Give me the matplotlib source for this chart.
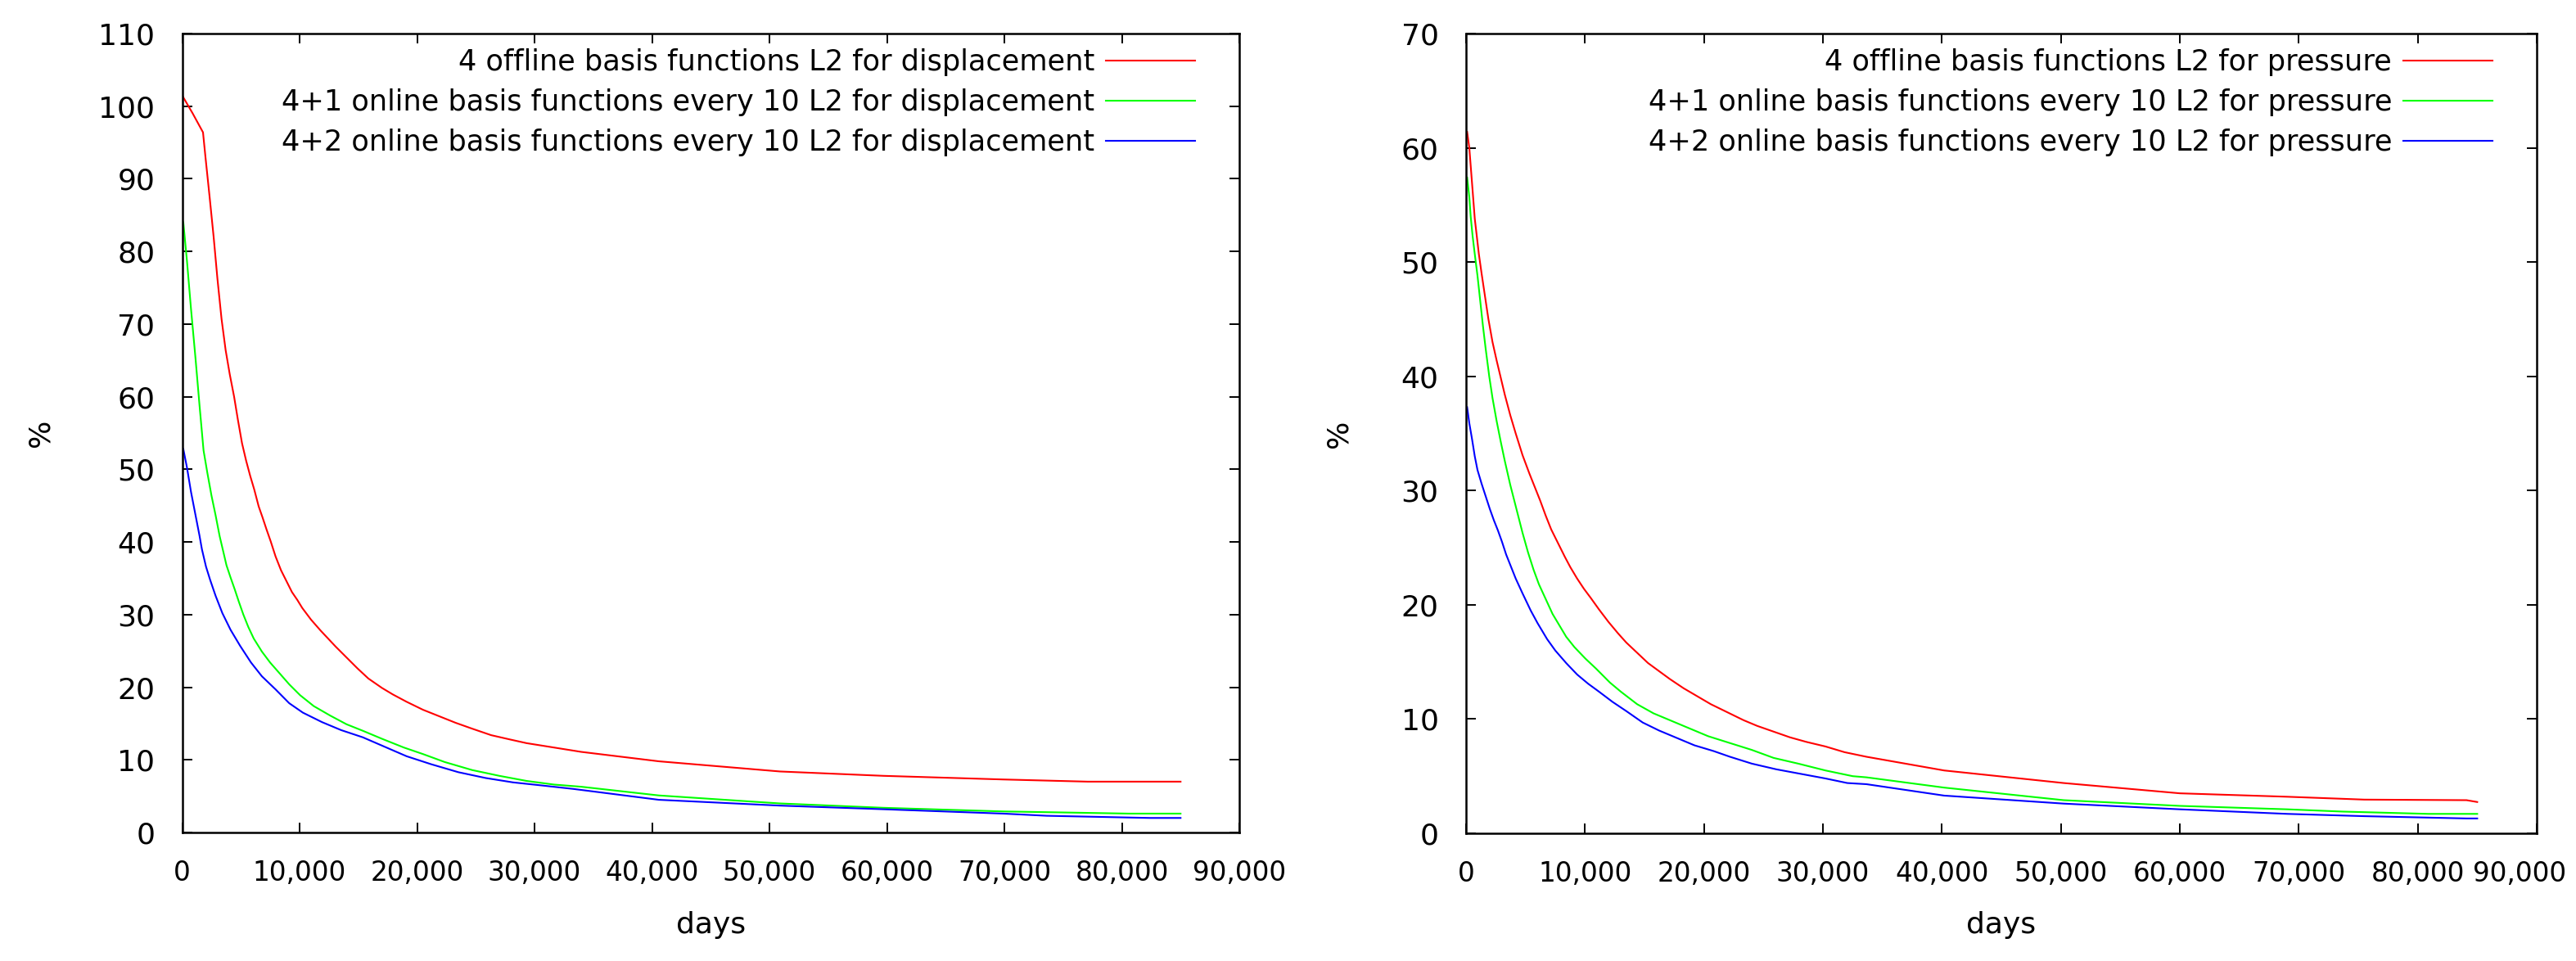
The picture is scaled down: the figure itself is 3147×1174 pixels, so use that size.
import matplotlib
matplotlib.use("Agg")
import matplotlib.pyplot as plt
from matplotlib.ticker import FuncFormatter, MultipleLocator

plt.rcParams['font.family'] = ['DejaVu Sans']

# ---------------- data: displacement (left panel) ----------------
disp_red_x = [0, 900, 1777, 1986, 2334, 2683, 3008, 3356, 3705, 4053,
              4425, 4750, 5098, 5447, 5795, 6144, 6516, 6841, 7190, 7537,
              7956, 8420, 8885, 9350, 9814, 10232, 10976, 11789, 13066, 13995,
              14924, 15854, 17015, 17944, 19106, 20500, 21894, 23287, 24681, 26307,
              27930, 29324, 31650, 33972, 40590, 50900, 59700, 69900, 77100, 85000]
disp_red_y = [101.5, 99.0, 96.4, 93.0, 87.6, 82.0, 76.2, 70.7, 66.4, 63.1,
              60.0, 56.8, 53.6, 51.2, 49.1, 47.2, 44.9, 43.4, 41.7, 40.1,
              38.0, 36.1, 34.6, 33.1, 32.0, 30.9, 29.3, 27.8, 25.6, 24.1,
              22.6, 21.2, 19.9, 19.0, 18.0, 16.9, 16.0, 15.1, 14.3, 13.4,
              12.8, 12.3, 11.7, 11.1, 9.8, 8.4, 7.8, 7.3, 7.0, 7.0]

disp_green_x = [100, 406, 755, 1127, 1476, 1824, 2149, 2497, 2846, 3194,
                3543, 3774, 4125, 4473, 4822, 5213, 5633, 6098, 6794, 7491,
                8304, 9117, 10046, 11207, 12601, 13995, 15389, 17015, 18873, 20500,
                22357, 24681, 27004, 29324, 31650, 33972, 40590, 50900, 59700, 69900,
                80600, 85000]
disp_green_y = [84.0, 78.8, 72.1, 65.5, 58.9, 52.6, 49.5, 46.4, 43.7, 40.8,
                38.4, 36.8, 35.1, 33.5, 31.8, 30.0, 28.3, 26.7, 24.9, 23.4,
                21.9, 20.4, 18.9, 17.4, 16.1, 14.9, 14.0, 12.9, 11.7, 10.8,
                9.7, 8.6, 7.8, 7.1, 6.6, 6.3, 5.1, 4.0, 3.4, 2.9,
                2.6, 2.6]

disp_blue_x = [100, 406, 755, 1127, 1476, 1684, 2033, 2381, 2846, 3426,
               4125, 4937, 5865, 6794, 7956, 9117, 10279, 11904, 13530, 15389,
               17247, 19106, 21197, 23519, 25842, 28165, 30488, 33290, 40590, 50900,
               59700, 69900, 73600, 82400, 85000]
disp_blue_y = [52.8, 50.3, 46.9, 43.8, 40.9, 39.0, 36.6, 34.8, 32.6, 30.2,
               27.9, 25.7, 23.4, 21.5, 19.7, 17.8, 16.5, 15.2, 14.1, 13.1,
               11.8, 10.5, 9.4, 8.3, 7.5, 6.9, 6.5, 6.0, 4.5, 3.7,
               3.2, 2.6, 2.3, 2.0, 2.0]

# ---------------- data: pressure (right panel) ----------------
pres_red_x = [92, 275, 505, 734, 1078, 1308, 1537, 1881, 2225, 2569,
              2913, 3257, 3717, 4175, 4749, 5322, 5896, 6240, 6699, 7158,
              7731, 8305, 8764, 9337, 9911, 10485, 11173, 11975, 12778, 13467,
              14384, 15300, 16218, 17137, 18283, 19430, 20578, 21954, 23331, 24478,
              25854, 27230, 28608, 30213, 31818, 33654, 40190, 50240, 60010, 69030,
              75500, 84100, 85000]
pres_red_y = [61.4, 60.0, 56.9, 53.8, 50.7, 49.0, 47.4, 45.0, 43.0, 41.4,
              39.9, 38.4, 36.6, 35.0, 33.1, 31.5, 30.0, 29.1, 27.8, 26.6,
              25.4, 24.2, 23.3, 22.3, 21.4, 20.6, 19.6, 18.5, 17.5, 16.7,
              15.8, 14.9, 14.2, 13.5, 12.7, 12.0, 11.3, 10.6, 9.9, 9.4,
              8.9, 8.4, 8.0, 7.6, 7.1, 6.7, 5.5, 4.4, 3.5, 3.2,
              2.95, 2.9, 2.74]

pres_green_x = [92, 275, 390, 550, 734, 963, 1193, 1422, 1652, 1950,
                2225, 2569, 2913, 3257, 3717, 4061, 4405, 4749, 5208, 5667,
                6125, 6699, 7273, 8420, 9108, 10026, 10943, 12090, 13008, 14384,
                15760, 17137, 18742, 20350, 22182, 24019, 25854, 27920, 30213, 32507,
                33654, 40190, 50240, 60010, 69030, 73700, 80900, 85000]
pres_green_y = [57.4, 55.7, 54.0, 52.3, 50.7, 48.8, 46.6, 44.4, 42.4, 40.0,
                38.1, 36.1, 34.3, 32.6, 30.5, 29.1, 27.7, 26.3, 24.6, 23.1,
                21.8, 20.5, 19.2, 17.2, 16.3, 15.3, 14.4, 13.2, 12.4, 11.3,
                10.5, 9.9, 9.2, 8.5, 7.9, 7.3, 6.6, 6.1, 5.5, 5.0,
                4.9, 4.0, 2.9, 2.4, 2.1, 1.9, 1.7, 1.7]

pres_blue_x = [92, 275, 505, 734, 963, 1308, 1652, 1996, 2340, 2684,
               3028, 3372, 3831, 4175, 4749, 5437, 6010, 6813, 7502, 8420,
               9337, 10255, 11173, 12319, 13467, 14845, 16218, 17595, 19202, 20805,
               22182, 24019, 26084, 28149, 30213, 32051, 33654, 40190, 50240, 60010,
               69030, 75500, 84100, 85000]
pres_blue_y = [37.3, 35.9, 34.5, 33.0, 31.8, 30.6, 29.5, 28.4, 27.4, 26.5,
               25.5, 24.4, 23.2, 22.3, 21.0, 19.5, 18.4, 17.0, 16.0, 14.9,
               13.9, 13.1, 12.4, 11.5, 10.7, 9.7, 9.0, 8.4, 7.7, 7.2,
               6.7, 6.1, 5.6, 5.2, 4.8, 4.4, 4.3, 3.3, 2.6, 2.1,
               1.7, 1.5, 1.3, 1.3]

disp_labels = ["4 offline basis functions L2 for displacement",
               "4+1 online basis functions every 10 L2 for displacement",
               "4+2 online basis functions every 10 L2 for displacement"]
pres_labels = ["4 offline basis functions L2 for pressure",
               "4+1 online basis functions every 10 L2 for pressure",
               "4+2 online basis functions every 10 L2 for pressure"]
colors = ["#ff0000", "#00ff00", "#0000ff"]

x_label = "days"
y_label = "%"
x_max = 90000

W, H = 3147, 1174
fig = plt.figure(figsize=(W / 100, H / 100), dpi=100)

FS = 26        # y tick labels and axis labels
FS_X = 23.5    # x tick labels (gnuplot squeezes the separator, so they are narrow)
FS_LEG = 25.3
XPAD = 24


def px_axes(l, r, t, b):
    return fig.add_axes([l / W, (H - b) / H, (r - l) / W, (b - t) / H])


def day_fmt(v, pos):
    return f"{int(round(v)):,}"


def day_fmt_right(v, pos):
    # the last label of the right panel is drawn separately, nudged inwards
    if round(v) >= x_max:
        return ""
    return day_fmt(v, pos)


def style(ax, ymax, series, labels, w_px, h_px, ylab_x_px, bottom_px, fmt):
    for (xs, ys), lab, c in zip(series, labels, colors):
        ax.plot(xs, ys, color=c, lw=1.5, label=lab)
    ax.set_xlim(0, x_max)
    ax.set_ylim(0, ymax)
    ax.xaxis.set_major_locator(MultipleLocator(10000))
    ax.yaxis.set_major_locator(MultipleLocator(10))
    ax.xaxis.set_major_formatter(FuncFormatter(fmt))
    ax.tick_params(direction='in', length=8.5, width=1.4, top=True, right=True,
                   colors='#000000')
    ax.tick_params(axis='x', pad=XPAD, labelsize=FS_X)
    ax.tick_params(axis='y', pad=24, labelsize=FS)
    for s in ax.spines.values():
        s.set_linewidth(1.8)
    ax.set_xlabel(x_label, fontsize=FS, va='center')
    ax.xaxis.set_label_coords(0.5, -(1130 - bottom_px) / h_px)
    ax.set_ylabel(y_label, fontsize=FS, va='center', rotation=90)
    ax.yaxis.set_label_coords(ylab_x_px / w_px, 0.5)
    ax.legend(loc='upper right', markerfirst=False, frameon=False,
              fontsize=FS_LEG, handlelength=3.1, handletextpad=0.4,
              labelspacing=0.43, borderpad=0, borderaxespad=0,
              bbox_to_anchor=(1 - 54 / w_px, 1 - 18 / h_px))


ax1 = px_axes(222.5, 1514, 41, 1017)
style(ax1, 110, [(disp_red_x, disp_red_y), (disp_green_x, disp_green_y),
                 (disp_blue_x, disp_blue_y)], disp_labels,
      1514 - 222.5, 1017 - 41, 50 - 222.5, 1017, day_fmt)

ax2 = px_axes(1791, 3099, 41, 1018)
style(ax2, 70, [(pres_red_x, pres_red_y), (pres_green_x, pres_green_y),
                (pres_blue_x, pres_blue_y)], pres_labels,
      3099 - 1791, 1018 - 41, 1636 - 1791, 1018, day_fmt_right)

ax2.annotate(day_fmt(x_max, None), xy=(1, 0), xycoords='axes fraction',
             xytext=(-15, -XPAD), textcoords='offset points',
             ha='center', va='top', fontsize=FS_X, color='#000000',
             annotation_clip=False)

fig.savefig("out.png", dpi=100)
